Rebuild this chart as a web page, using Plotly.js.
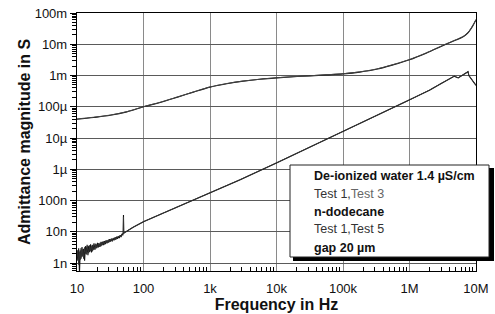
<!DOCTYPE html>
<html>
<head>
<meta charset="utf-8">
<script src="https://cdn.plot.ly/plotly-3.0.1.min.js"></script>
<style>html,body{margin:0;padding:0;background:#fff;}#chart{width:495px;height:314px;}</style>
</head>
<body>
<div id="chart"></div>
<script>
// Frequencies (Hz) and admittance magnitudes (S)
var waterFreq = [10,17.8,31.6,56.2,100,178,316,562,1000,1780,3160,5620,1e4,1.78e4,3.16e4,5.62e4,1e5,1.78e5,3.16e5,5.62e5,1e6,1.78e6,3.16e6,4e6,5e6,6.3e6,7.1e6,7.9e6,8.9e6,1e7];
var waterTest1 = [40e-6,45.7e-6,53.7e-6,69e-6,100e-6,138e-6,200e-6,295e-6,427e-6,550e-6,661e-6,759e-6,841e-6,912e-6,977e-6,1.05e-3,1.135e-3,1.29e-3,1.58e-3,2.19e-3,3.2e-3,5.2e-3,9.0e-3,11.2e-3,13.7e-3,17.0e-3,20.5e-3,26e-3,38e-3,61e-3];
var waterTest3 = [41e-6,46.5e-6,54.5e-6,70e-6,101e-6,140e-6,202e-6,298e-6,431e-6,555e-6,667e-6,765e-6,848e-6,920e-6,985e-6,1.06e-3,1.145e-3,1.31e-3,1.61e-3,2.23e-3,3.26e-3,5.3e-3,9.2e-3,11.4e-3,14.0e-3,17.4e-3,21e-3,26.6e-3,39e-3,62e-3];

var dodeFreq = [10,10.3,10.6,10.9,11.2,11.5,11.9,12.2,12.6,13.0,13.4,13.8,14.2,14.6,15.0,15.5,16.0,16.5,17.0,17.5,18.0,18.6,19.2,19.8,20.4,21.0,21.6,22.3,23.0,23.7,24.4,25.1,25.9,26.7,27.5,28.3,29.2,30.1,31.0,32.0,33.0,34.0,35.0,36.1,37.2,38.3,39.5,40.7,42.0,43.3,44.6,46.0,47.4,48.8,49.6,50.0,50.4,51.5,53,56,60,70,100,200,500,1e3,2.8e3,1e4,1e5,1e6,2e6,3e6,4e6,4.7e6,5.4e6,6.5e6,7.6e6,7.8e6,1e7];
var dodeTest1 = [2.4e-9,1.2e-9,3.0e-9,0.5e-9,2.6e-9,1.4e-9,3.3e-9,1.7e-9,2.9e-9,1.2e-9,3.5e-9,2.0e-9,3.9e-9,1.8e-9,3.6e-9,2.3e-9,4.0e-9,2.2e-9,3.8e-9,2.6e-9,4.3e-9,2.8e-9,4.0e-9,3.0e-9,4.5e-9,3.2e-9,4.2e-9,3.4e-9,4.8e-9,3.7e-9,4.9e-9,3.8e-9,5.1e-9,4.1e-9,5.4e-9,4.3e-9,5.5e-9,4.6e-9,5.9e-9,4.9e-9,6.1e-9,5.1e-9,6.3e-9,5.4e-9,6.7e-9,5.7e-9,7.0e-9,6.0e-9,7.3e-9,6.4e-9,7.9e-9,6.8e-9,8.7e-9,7.8e-9,9.5e-9,35e-9,9.0e-9,9.3e-9,9.6e-9,10.5e-9,11.5e-9,14e-9,21e-9,40e-9,92e-9,173e-9,460e-9,1.6e-6,16e-6,163e-6,340e-6,560e-6,800e-6,950e-6,840e-6,1.07e-3,1.33e-3,1.0e-3,0.48e-3];
var dodeTest5 = [1.5e-9,2.6e-9,0.9e-9,2.3e-9,1.3e-9,3.0e-9,1.6e-9,2.7e-9,1.4e-9,3.2e-9,2.2e-9,1.9e-9,3.4e-9,2.4e-9,2.1e-9,3.7e-9,2.5e-9,3.4e-9,2.4e-9,3.9e-9,3.0e-9,2.7e-9,4.2e-9,3.1e-9,3.5e-9,4.3e-9,3.3e-9,4.5e-9,3.5e-9,4.7e-9,3.9e-9,4.9e-9,4.0e-9,5.2e-9,4.4e-9,5.3e-9,4.5e-9,5.7e-9,4.8e-9,5.8e-9,5.9e-9,5.0e-9,6.2e-9,6.3e-9,5.5e-9,6.8e-9,5.9e-9,7.0e-9,7.1e-9,7.5e-9,6.9e-9,8.0e-9,8.2e-9,8.9e-9,9.0e-9,30e-9,9.2e-9,9.4e-9,9.8e-9,10.6e-9,11.6e-9,14.2e-9,21.3e-9,40.5e-9,93e-9,175e-9,465e-9,1.62e-6,16.2e-6,165e-6,345e-6,568e-6,810e-6,960e-6,850e-6,1.08e-3,1.34e-3,1.01e-3,0.49e-3];

var xTickVals = [10,100,1e3,1e4,1e5,1e6,1e7];
var xTickText = ["10","100","1k","10k","100k","1M","10M"];
var yTickVals = [1e-9,1e-8,1e-7,1e-6,1e-5,1e-4,1e-3,1e-2,1e-1];
var yTickText = ["1n","10n","100n","1\u00b5","10\u00b5","100\u00b5","1m","10m","100m"];

function minorVals(lo, hi) {
  var out = [];
  for (var e = lo; e < hi; e++) for (var d = 2; d <= 9; d++) out.push(d * Math.pow(10, e));
  return out;
}

var traces = [
  {x: waterFreq, y: waterTest1, mode: 'lines', line: {color: '#111', width: 1.1, shape: 'spline', smoothing: 1}, name: 'Test 1'},
  {x: waterFreq, y: waterTest3, mode: 'lines', line: {color: '#444', width: 1, shape: 'spline', smoothing: 1}, name: 'Test 3'},
  {x: dodeFreq, y: dodeTest1, mode: 'lines', line: {color: '#111', width: 1.1}, name: 'Test 1'},
  {x: dodeFreq, y: dodeTest5, mode: 'lines', line: {color: '#333', width: 1}, name: 'Test 5'}
];

var F = 'Liberation Sans, Arial, Helvetica, sans-serif';
// plot area pixel geometry: x 77..476, y 13..271
function px(x) { return (x - 77) / 399; }
function py(y) { return (271 - y) / 258; }

var legendRows = [
  '<b>De-ionized water 1.4 \u00b5S/cm</b>',
  '<span style="color:#333">Test 1,</span><span style="color:#666">Test 3</span>',
  '<b>n-dodecane</b>',
  '<span style="color:#333">Test 1,Test 5</span>',
  '<b>gap 20 \u00b5m</b>'
];
var rowY = [175.5, 193.5, 211.5, 229.5, 248];
var annotations = legendRows.map(function (t, i) {
  return {xref: 'paper', yref: 'paper', x: px(312), y: py(rowY[i]), xanchor: 'left', yanchor: 'middle',
          text: t, showarrow: false, font: {family: F, size: 12.5, color: '#111'}};
});

var layout = {
  width: 495, height: 314,
  margin: {l: 77, r: 19, t: 13, b: 43},
  paper_bgcolor: '#fff', plot_bgcolor: '#fff',
  showlegend: false,
  font: {family: F, color: '#111'},
  xaxis: {
    type: 'log', range: [1, 7],
    tickmode: 'array', tickvals: xTickVals, ticktext: xTickText,
    tickfont: {family: F, size: 13, color: '#111'}, ticklabelstandoff: 5,
    ticks: '', showgrid: true, gridcolor: '#8a8a8a', gridwidth: 1,
    showline: true, linecolor: '#000', linewidth: 1.2, mirror: true, zeroline: false,
    minor: {tickmode: 'array', tickvals: minorVals(1, 7), ticks: 'inside', ticklen: 4, tickcolor: '#000', showgrid: false},
    title: {text: '<b>Frequency in Hz</b>', font: {family: F, size: 16, color: '#111'}, standoff: 4}
  },
  yaxis: {
    type: 'log', range: [-9.25, -1],
    tickmode: 'array', tickvals: yTickVals, ticktext: yTickText,
    tickfont: {family: F, size: 13, color: '#111'},
    ticks: 'outside', ticklen: 6, tickcolor: '#000',
    showgrid: true, gridcolor: '#5a5a5a', gridwidth: 1,
    showline: true, linecolor: '#000', linewidth: 1.2, mirror: true, zeroline: false,
    minor: {tickmode: 'array', tickvals: minorVals(-10, -1), ticks: 'outside', ticklen: 4, tickcolor: '#000', showgrid: false},
    title: {text: '<b>Admittance magnitude in S</b>', font: {family: F, size: 16, color: '#111'}, standoff: 0}
  },
  shapes: [
    {type: 'rect', xref: 'paper', yref: 'paper', x0: px(293), x1: px(494), y0: py(261), y1: py(168),
     fillcolor: '#000', line: {width: 0}, layer: 'above'},
    {type: 'rect', xref: 'paper', yref: 'paper', x0: px(290), x1: px(489), y0: py(257), y1: py(165),
     fillcolor: '#fff', line: {color: '#222', width: 1}, layer: 'above'}
  ],
  annotations: annotations
};

Plotly.newPlot('chart', traces, layout, {staticPlot: true, displayModeBar: false});
</script>
</body>
</html>
